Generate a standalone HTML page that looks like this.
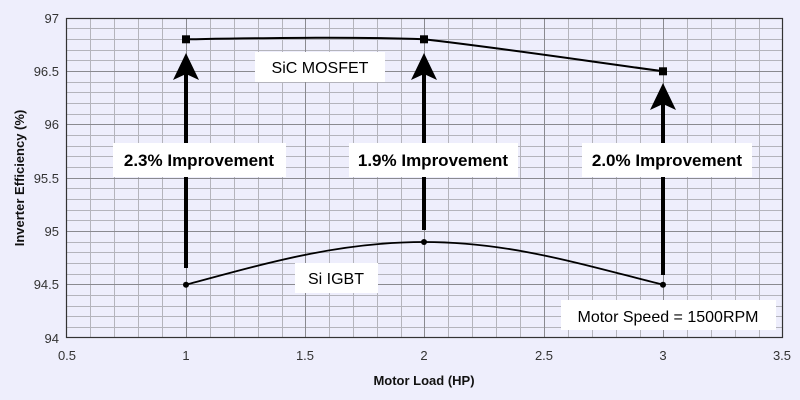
<!DOCTYPE html>
<html><head><style>body{margin:0;background:#eeeefc}svg{display:block}</style></head><body>
<svg width="800" height="400" xmlns="http://www.w3.org/2000/svg" font-family="Liberation Sans, sans-serif">
<rect width="800" height="400" fill="#eeeefc"/>
<g stroke="#b4b4bc" stroke-width="1">
<!-- minor verticals -->
<path d="M90.5 18V338M114.5 18V338M138.5 18V338M162.5 18V338M210.5 18V338M234.5 18V338M258.5 18V338M282.5 18V338M329.5 18V338M353.5 18V338M377.5 18V338M401.5 18V338M448.5 18V338M472.5 18V338M496.5 18V338M520.5 18V338M568.5 18V338M592.5 18V338M616.5 18V338M640.5 18V338M687.5 18V338M711.5 18V338M735.5 18V338M759.5 18V338"/>
<path d="M66 28.5H783M66 39.5H783M66 50.5H783M66 60.5H783M66 82.5H783M66 92.5H783M66 103.5H783M66 114.5H783M66 135.5H783M66 146.5H783M66 156.5H783M66 167.5H783M66 188.5H783M66 199.5H783M66 210.5H783M66 220.5H783M66 242.5H783M66 252.5H783M66 263.5H783M66 274.5H783M66 295.5H783M66 306.5H783M66 316.5H783M66 327.5H783"/>
</g>
<g stroke="#8a8a90" stroke-width="1">
<path d="M186.5 18V338M305.5 18V338M424.5 18V338M544.5 18V338M663.5 18V338"/>
<path d="M66 71.5H783M66 124.5H783M66 178.5H783M66 231.5H783M66 284.5H783"/>
</g>
<rect x="66.5" y="18.5" width="716" height="319" fill="none" stroke="#333" stroke-width="1.2"/>
<g font-size="13" fill="#333" text-anchor="end">
<text x="59" y="23">97</text><text x="59" y="76">96.5</text><text x="59" y="129">96</text><text x="59" y="183">95.5</text><text x="59" y="236">95</text><text x="59" y="289">94.5</text><text x="59" y="343">94</text>
</g>
<g font-size="13" fill="#333" text-anchor="middle">
<text x="67" y="360">0.5</text><text x="186" y="360">1</text><text x="305" y="360">1.5</text><text x="424" y="360">2</text><text x="544" y="360">2.5</text><text x="663" y="360">3</text><text x="782" y="360">3.5</text>
</g>
<text x="424" y="385" font-size="13" font-weight="bold" text-anchor="middle" fill="#111">Motor Load (HP)</text>
<text transform="translate(24 178) rotate(-90)" font-size="13" font-weight="bold" text-anchor="middle" fill="#111">Inverter Efficiency (%)</text>
<!-- arrows -->
<g fill="#000" stroke="#000">
<line x1="186" y1="268" x2="186" y2="70" stroke-width="4"/>
<path d="M186 53 L173 80 L186 74 L199 80Z" stroke="none"/>
<line x1="424" y1="230" x2="424" y2="70" stroke-width="4"/>
<path d="M424 53 L411 80 L424 74 L437 80Z" stroke="none"/>
<line x1="663" y1="275" x2="663" y2="100" stroke-width="4"/>
<path d="M663 83 L650 110 L663 104 L676 110Z" stroke="none"/>
</g>
<!-- series -->
<path d="M186 39.3 C 270 38, 350 36.5, 424 39.3 C 500 48, 580 60, 663 71.3" fill="none" stroke="#000" stroke-width="2"/>
<rect x="182" y="35.3" width="8" height="8"/><rect x="420" y="35.3" width="8" height="8"/><rect x="659" y="67.3" width="8" height="8"/>
<path d="M186 284.7 C 270 262, 340 242, 424 242 C 510 242, 580 264, 663 284.7" fill="none" stroke="#000" stroke-width="1.8"/>
<circle cx="186" cy="284.7" r="3"/><circle cx="424" cy="242" r="3"/><circle cx="663" cy="284.7" r="3"/>
<!-- labels -->
<g fill="#fff">
<rect x="113" y="143" width="173" height="34"/><rect x="349" y="143" width="169" height="34"/><rect x="582" y="143" width="170" height="34"/>
<rect x="255" y="52" width="130" height="30"/><rect x="295" y="263" width="83" height="30"/><rect x="561" y="300" width="215" height="30"/>
</g>
<g font-size="17" font-weight="bold" fill="#000" text-anchor="middle">
<text x="199" y="166">2.3% Improvement</text><text x="433" y="166">1.9% Improvement</text><text x="667" y="166">2.0% Improvement</text>
</g>
<g font-size="16" fill="#000" text-anchor="middle">
<text x="320" y="73">SiC MOSFET</text><text x="336" y="284">Si IGBT</text><text x="668" y="322">Motor Speed = 1500RPM</text>
</g>
</svg>
</body></html>
